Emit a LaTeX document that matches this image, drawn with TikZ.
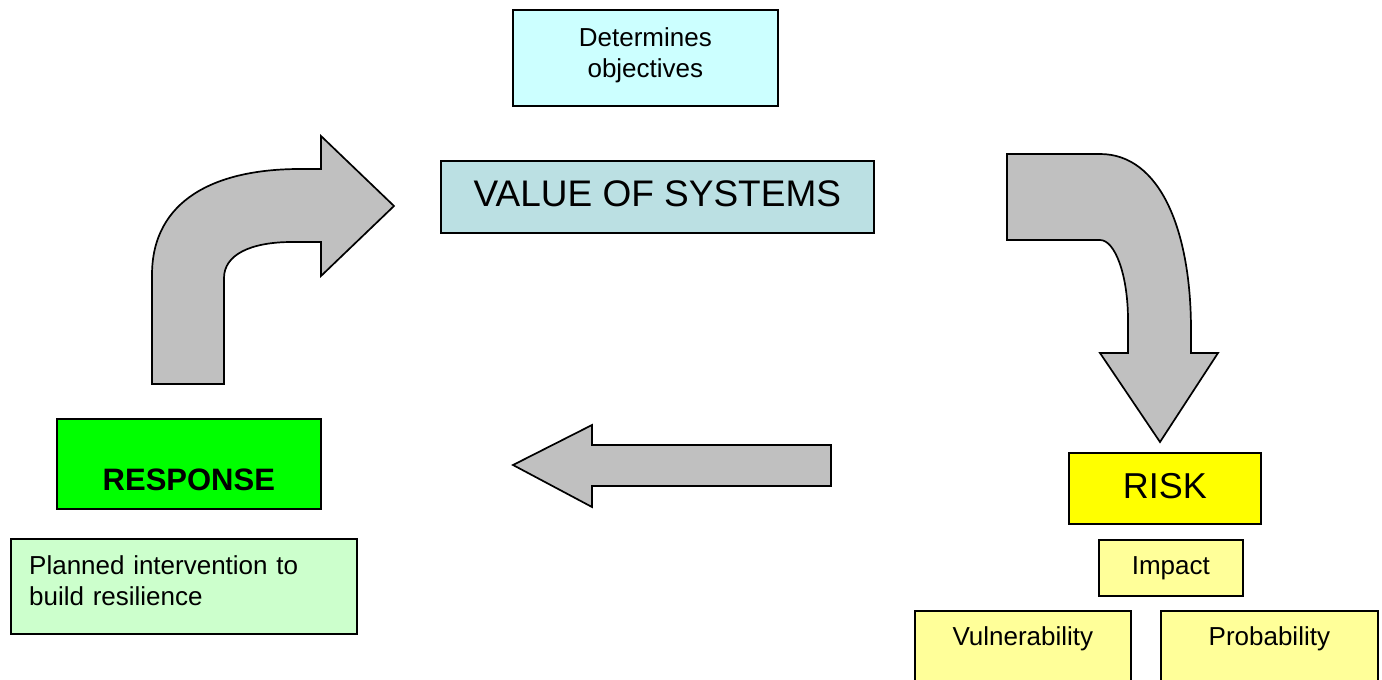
\documentclass[tikz,border=0pt]{standalone}
\usepackage{fontspec}
\setmainfont{Liberation Sans}
\definecolor{detcol}{RGB}{204,255,255}
\definecolor{valcol}{RGB}{187,224,227}
\definecolor{respcol}{RGB}{0,255,0}
\definecolor{plancol}{RGB}{204,255,204}
\definecolor{riskcol}{RGB}{255,255,0}
\definecolor{factcol}{RGB}{255,255,153}
\definecolor{arrowcol}{RGB}{192,192,192}
\tikzset{
  box/.style={draw=black, line width=1.7pt, rectangle, inner sep=0pt, anchor=north west},
  bigarrow/.style={draw=black, line width=1.7pt, fill=arrowcol, line join=miter},
  smalltext/.style={font=\fontsize{26}{31}\selectfont, inner sep=0pt},
}
\begin{document}
\begin{tikzpicture}[x=1pt, y=-1pt]
\clip (0,0) rectangle (1382,680);
\fill[white] (0,0) rectangle (1382,680);

% top boxes
\node[box, fill=detcol, minimum width=265pt, minimum height=96pt] (det) at (512,9) {};
\node[smalltext, align=center] (dettext) at ([yshift=3pt]det.center) {Determines\\objectives};
\node[box, fill=valcol, minimum width=433pt, minimum height=72pt] (val) at (440,160) {};
\node[inner sep=0pt, font=\fontsize{37}{42}\selectfont] (valtext)
      at ([yshift=3pt]val.center) {VALUE OF SYSTEMS};

% response side
\node[box, fill=respcol, minimum width=264pt, minimum height=90pt] (resp) at (56,418) {};
\node[inner sep=0pt, font=\fontsize{31}{36}\bfseries\selectfont] (resptext)
      at ([yshift=-16pt]resp.center) {RESPONSE};
\node[box, fill=plancol, minimum width=346pt, minimum height=95pt] (plan) at (10,538) {};
\node[smalltext, anchor=north west, align=left, text width=320pt] (plantext)
      at (29,555) {Planned intervention to\\build resilience};

% risk side
\node[box, fill=riskcol, minimum width=192pt, minimum height=71pt] (risk) at (1068,452) {};
\node[inner sep=0pt, font=\fontsize{36}{41}\selectfont] (risktext)
      at ([yshift=2pt]risk.center) {RISK};
\node[box, fill=factcol, minimum width=144pt, minimum height=56pt,
      font=\fontsize{26}{31}\selectfont] (impact) at (1098,539) {Impact};
\node[box, fill=factcol, minimum width=216pt, minimum height=100pt] (vuln) at (914,610) {};
\node[smalltext] (vulntext) at ([yshift=-29pt]vuln.north) {Vulnerability};
\node[box, fill=factcol, minimum width=217pt, minimum height=100pt] (prob) at (1160,610) {};
\node[smalltext] (probtext) at ([yshift=-29pt]prob.north) {Probability};

% curved arrow from response up to the value of systems
\draw[bigarrow] (152,384) -- (152,275)
  .. controls (152,200) and (215,169) .. (300,169)
  -- (321,169) -- (321,136) -- (394,206) -- (321,276) -- (321,242) -- (292,242)
  .. controls (250,242) and (224,255) .. (224,278)
  -- (224,384) -- cycle;

% curved arrow from the value of systems down to risk
\draw[bigarrow] (1007,154) -- (1100,154)
  .. controls (1160,154) and (1191,230) .. (1191,330)
  -- (1191,353) -- (1218,353) -- (1160,442) -- (1100,353) -- (1128,353) -- (1128,320)
  .. controls (1128,275) and (1115,240) .. (1100,240)
  -- (1007,240) -- cycle;

% straight arrow from risk back to response
\draw[bigarrow] (831,445) -- (592,445) -- (592,425) -- (513,465) -- (592,507)
  -- (592,486) -- (831,486) -- cycle;
\end{tikzpicture}
\end{document}
